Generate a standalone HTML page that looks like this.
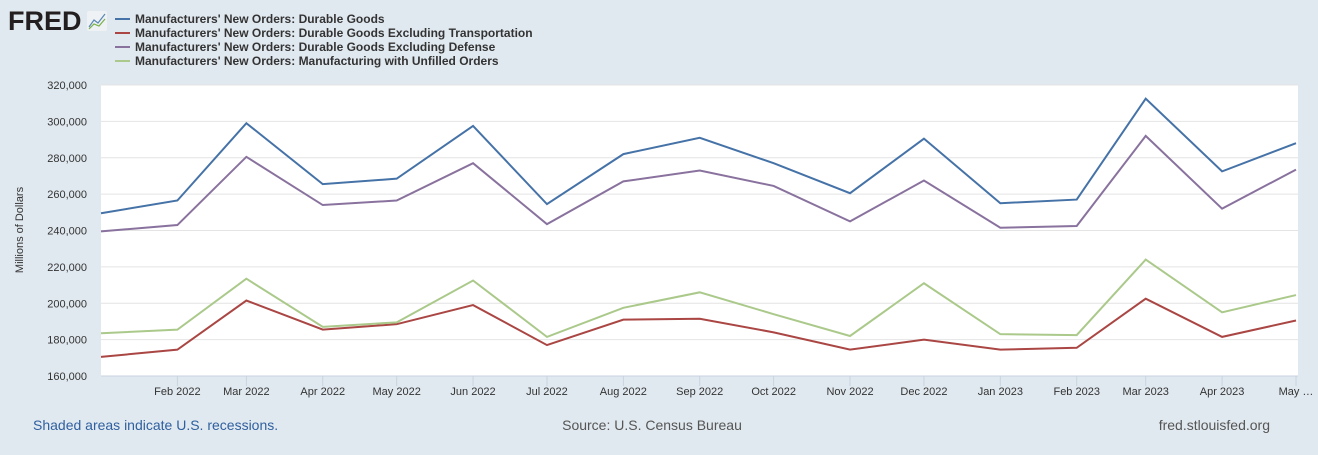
<!DOCTYPE html>
<html><head><meta charset="utf-8"><style>
body{margin:0;width:1318px;height:450px;background:#e1e9f0;font-family:"Liberation Sans",sans-serif;overflow:hidden}
</style></head><body>
<svg id="c" width="1318" height="450" xmlns="http://www.w3.org/2000/svg">
<text x="8" y="30" font-size="27" font-weight="bold" fill="#231f20" font-family="Liberation Sans">FRED</text>
<rect x="87" y="11" width="20" height="20" rx="2" fill="#eef2f5"/>
<polyline points="89,27 94,20 98,23 105,14" fill="none" stroke="#5a88b5" stroke-width="1.2"/>
<polyline points="89,29 94,24 99,26 105,19" fill="none" stroke="#7ab04a" stroke-width="1.2"/>
<g id="legend"></g>
<rect x="101" y="85" width="1197" height="291" fill="#fff"/>
<g id="grid"></g><g id="series"></g><g id="xaxis"></g>
<text transform="translate(23,230) rotate(-90)" text-anchor="middle" font-size="11" fill="#333">Millions of Dollars</text>
<text x="33" y="430" font-size="14" fill="#2f5f9f">Shaded areas indicate U.S. recessions.</text>
<text x="652" y="430" font-size="14" fill="#555" text-anchor="middle">Source: U.S. Census Bureau</text>
<text x="1270" y="430" font-size="14" fill="#555" text-anchor="end">fred.stlouisfed.org</text>
</svg>
<script>
const months=["Jan 2022","Feb 2022","Mar 2022","Apr 2022","May 2022","Jun 2022","Jul 2022","Aug 2022","Sep 2022","Oct 2022","Nov 2022","Dec 2022","Jan 2023","Feb 2023","Mar 2023","Apr 2023","May 2023"];
const tickLabels=["Feb 2022","Mar 2022","Apr 2022","May 2022","Jun 2022","Jul 2022","Aug 2022","Sep 2022","Oct 2022","Nov 2022","Dec 2022","Jan 2023","Feb 2023","Mar 2023","Apr 2023","May …"];
const yTicks=[160000,180000,200000,220000,240000,260000,280000,300000,320000];
const durable=[249.5,256.5,299,265.5,268.5,297.5,254.5,282,291,277,260.5,290.5,255,257,312.5,272.5,288];
const exTransport=[170.5,174.5,201.5,185.5,188.5,199,177,191,191.5,184,174.5,180,174.5,175.5,202.5,181.5,190.5];
const exDefense=[239.5,243,280.5,254,256.5,277,243.5,267,273,264.5,245,267.5,241.5,242.5,292,252,273.5];
const unfilled=[183.5,185.5,213.5,187,189.5,212.5,181.5,197.5,206,194,182,211,183,182.5,224,195,204.5];
const names=["Manufacturers' New Orders: Durable Goods","Manufacturers' New Orders: Durable Goods Excluding Transportation","Manufacturers' New Orders: Durable Goods Excluding Defense","Manufacturers' New Orders: Manufacturing with Unfilled Orders"];
const colors=["#4572a7","#aa4643","#89729e","#aac98a"];
const NS="http://www.w3.org/2000/svg";
const t0=Date.UTC(2022,0,1),t1=Date.UTC(2023,4,1);
function xOf(i){const p=months[i].split(" ");const m=["Jan","Feb","Mar","Apr","May","Jun","Jul","Aug","Sep","Oct","Nov","Dec"].indexOf(p[0]);const t=Date.UTC(+p[1],m,1);return 101+(t-t0)/(t1-t0)*1195;}
function yOf(v){return 376-(v-160000)/160000*291;}
function mk(tag,attrs,parent){const e=document.createElementNS(NS,tag);for(const k in attrs)e.setAttribute(k,attrs[k]);document.getElementById(parent).appendChild(e);return e;}
yTicks.forEach(v=>{const y=yOf(v);
 const l=mk("line",{x1:101,x2:1298,y1:y,y2:y,stroke:"#e4e4e4","stroke-width":1},"grid");
 
 
 const t=mk("text",{x:87,y:y+4,"text-anchor":"end","font-size":11,fill:"#333"},"grid");t.textContent=v.toLocaleString("en-US");
 
 });
mk("line",{x1:101,x2:1298,y1:376,y2:376,stroke:"#c8d3e0"},"xaxis");
tickLabels.forEach((lab,k)=>{const x=xOf(k+1);
 mk("line",{x1:x,x2:x,y1:376,y2:386,stroke:"#c8d3e0"},"xaxis");
 const t=mk("text",{x:x,y:395,"text-anchor":"middle","font-size":11,fill:"#333"},"xaxis");t.textContent=lab;
 
 });
[durable,exTransport,exDefense,unfilled].forEach((s,k)=>{
 const p=mk("polyline",{points:s.map((v,i)=>xOf(i)+","+yOf(v*1000)).join(" "),fill:"none",stroke:colors[k],"stroke-width":2},"series");
 
 
 const y=19+k*14;
 mk("line",{x1:115,x2:130,y1:y,y2:y,stroke:colors[k],"stroke-width":2},"legend");
 const t=mk("text",{x:135,y:y+4,"font-size":12,"font-weight":"bold",fill:"#333"},"legend");t.textContent=names[k];
 
 });
</script>
</body></html>
